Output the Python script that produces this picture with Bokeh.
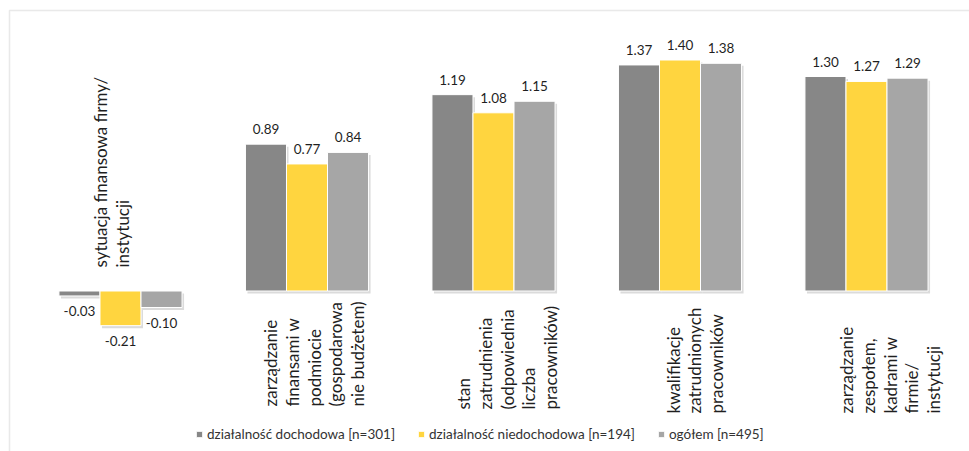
import math
from bokeh.plotting import figure
from bokeh.models import Range1d, ColumnDataSource, Legend, LegendItem, BoxAnnotation
from bokeh.embed import file_html
from bokeh.resources import INLINE
from bokeh.core.properties import value

# ---------------- data ----------------
categories = [
    ["sytuacja finansowa firmy/", "instytucji"],
    ["zarządzanie", "finansami w", "podmiocie", "(gospodarowa", "nie budżetem)"],
    ["stan", "zatrudnienia", "(odpowiednia", "liczba", "pracowników)"],
    ["kwalifikacje", "zatrudnionych", "pracowników"],
    ["zarządzanie", "zespołem,", "kadrami w", "firmie/", "instytucji"],
]
series_names = [
    "działalność dochodowa [n=301]",
    "działalność niedochodowa [n=194]",
    "ogółem [n=495]",
]
dochodowa = [-0.03, 0.89, 1.19, 1.37, 1.30]
niedochodowa = [-0.21, 0.77, 1.08, 1.40, 1.27]
ogolem = [-0.10, 0.84, 1.15, 1.38, 1.29]

# ---------------- layout / style ----------------
W, H = 969, 451
CAT_PX = 186.5     # pixels per category
X0_PX = 120.0      # pixel centre of first category
UNIT_PX = 165.0    # pixels per value unit
Y0_PX = 290.5      # pixel row of zero
BAR_W = 0.22
colors = ["#878787", "#FFD53F", "#A6A6A6"]
FONT = "Lato"
TXT = "#1f1f1f"

label_first_px = [-20, -36.5, -30, -7, -20]   # first label line offset from category centre
label_start_px = [267, 406, 409, 413, 413]     # pixel row where rotated label text starts
LINE_PX = 21.8


def xd(px):
    return (px - X0_PX) / CAT_PX


def yd(px):
    return (Y0_PX - px) / UNIT_PX


p = figure(width=W, height=H, min_border=0, toolbar_location=None,
           output_backend="svg",
           x_range=Range1d(xd(0), xd(W)), y_range=Range1d(yd(H), yd(0)))
p.axis.visible = False
p.grid.visible = False
p.outline_line_color = None
p.background_fill_color = "white"
p.border_fill_color = "white"

# outer frame (only top and left visible)
p.add_layout(BoxAnnotation(left=xd(9), top=yd(10), right=xd(W + 50), bottom=yd(H + 50),
                           fill_alpha=0, line_color="#b5b5b5", line_width=1.5))

series = [dochodowa, niedochodowa, ogolem]
n = len(categories)
dx_sh = 2.0 / CAT_PX
dy_sh = 2.5 / UNIT_PX

# shadows
for k, vals in enumerate(series):
    xs = [i + (k - 1) * BAR_W + dx_sh for i in range(n)]
    tops = [max(v, 0) - dy_sh for v in vals]
    bots = [min(v, 0) - dy_sh for v in vals]
    p.vbar(x=xs, top=tops, bottom=bots, width=BAR_W, fill_color="#b0b0b0",
           fill_alpha=0.45, line_color=None)

renderers = []
for k, vals in enumerate(series):
    xs = [i + (k - 1) * BAR_W for i in range(n)]
    src = ColumnDataSource(dict(x=xs, top=vals,
                                lab=[f"{v:.2f}" for v in vals],
                                off=[-15 if v >= 0 else 15 for v in vals]))
    r = p.vbar(x="x", top="top", bottom=0, width=BAR_W, source=src,
               fill_color=colors[k], line_color="white", line_width=1)
    renderers.append(r)
    p.text(x="x", y="top", text="lab", y_offset="off", source=src,
           text_align="center", text_baseline="middle",
           text_font=value(FONT), text_font_size="13.5px", text_color=TXT)

# category labels (rotated, multi-line)
lx, ly, lt = [], [], []
for i, lines in enumerate(categories):
    for j, line in enumerate(lines):
        lx.append(i + (label_first_px[i] + j * LINE_PX) / CAT_PX)
        ly.append(yd(label_start_px[i]))
        lt.append(line)
p.text(x=lx, y=ly, text=lt, angle=math.pi / 2, text_align="left",
       text_baseline="middle", text_font=value(FONT), text_font_size="17px",
       text_color=TXT)

legend = Legend(items=[LegendItem(label=series_names[k], renderers=[renderers[k]])
                       for k in range(3)],
                orientation="horizontal", location=(195, 9),
                glyph_width=8, glyph_height=8, label_height=16,
                label_standoff=4, spacing=22, padding=0, margin=0,
                border_line_color=None, background_fill_alpha=0,
                label_text_font=FONT, label_text_font_size="13.5px",
                label_text_color="#333333")
p.add_layout(legend)

open("out.html", "w").write(file_html(p, INLINE))
